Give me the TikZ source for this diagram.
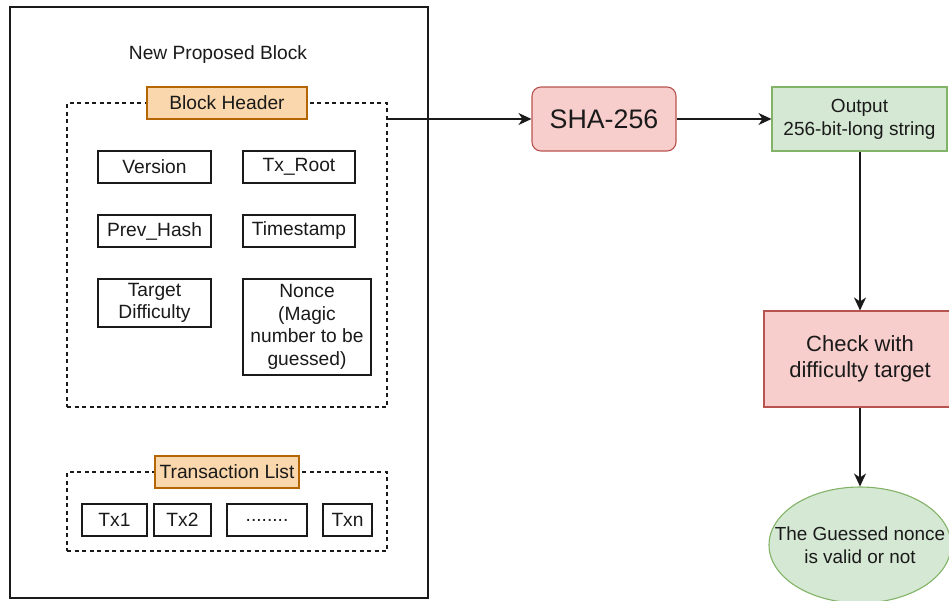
\documentclass[tikz,border=0pt]{standalone}
\usepackage{fontspec}
\setmainfont{Liberation Sans}
\usetikzlibrary{arrows.meta,shapes.geometric}

\definecolor{hdrfill}{HTML}{FAD7AC}
\definecolor{hdrline}{HTML}{B46504}
\definecolor{redfill}{HTML}{F8CECC}
\definecolor{redline}{HTML}{B85450}
\definecolor{grnfill}{HTML}{D5E8D4}
\definecolor{grnline}{HTML}{82B366}
\definecolor{ink}{HTML}{1A1A1A}

\tikzset{
  base/.style={inner sep=0pt, align=center, text=ink,
    font=\fontsize{19.2}{22.5}\selectfont},
  field/.style={base, draw=ink, line width=1.2pt, fill=white},
  group/.style={base, draw=ink, line width=1.1pt, dash pattern=on 4pt off 3.5pt},
  tag/.style={base, draw=hdrline, fill=hdrfill, line width=1.1pt},
  redbox/.style={base, draw=redline, fill=redfill, line width=1.1pt},
  grnbox/.style={base, draw=grnline, fill=grnfill, line width=1.1pt},
  flow/.style={draw=ink, line width=1.3pt,
    -{Stealth[length=13pt,width=12pt,inset=4pt]}},
  box/.style n args={2}{minimum width=#1pt, minimum height=#2pt}
}

\begin{document}
\begin{tikzpicture}[x=1pt, y=-1pt]
  \clip (0,0) rectangle (949,600);
  \fill[white] (0,0) rectangle (949,600);

  % the proposed block and its two dashed groups
  \node[field, box={418}{591}, fill=none] (block) at (219,302.5) {};
  \node[base] (title) at (218,55) {New Proposed Block};

  \node[group, box={320}{304}] (hdrbox) at (227,255) {};
  \node[tag, box={160}{32}] (hdrtag) at (227,103) {Block Header};

  \node[field, box={113}{32}] (version)   at (154.5,167) {Version};
  \node[field, box={112}{32}] (txroot)    at (299,167)   {Tx\_Root};
  \node[field, box={113}{32}] (prevhash)  at (154.5,231) {Prev\_Hash};
  \node[field, box={112}{32}] (timestamp) at (299,231)   {Timestamp};
  \node[field, box={113}{48}] (target)    at (154.5,303) {Target\\Difficulty};
  \node[field, box={128}{96}] (nonce)     at (307,327)
    {Nonce\\(Magic\\number to be\\guessed)};

  \node[group, box={320}{79}] (txbox) at (227,511.5) {};
  \node[tag, box={144}{32}] (txtag) at (227,472) {Transaction List};

  \node[field, box={65}{32}] (tx1)  at (114.5,520) {Tx1};
  \node[field, box={57}{32}] (tx2)  at (182.5,520) {Tx2};
  \node[field, box={80}{32}] (dots) at (267,520)   {........};
  \node[field, box={49}{32}] (txn)  at (347.5,520) {Txn};

  % hashing pipeline
  \node[redbox, box={144}{64}, rounded corners=9pt,
        font=\fontsize{26.8}{30}\selectfont] (sha) at (604,119) {SHA-256};
  \node[grnbox, box={175}{64}, font=\fontsize{19}{23}\selectfont]
        (output) at (859.5,119) {Output\\256-bit-long string};
  \node[redbox, box={192}{96}, font=\fontsize{22}{26}\selectfont]
        (check) at (860,359) {Check with\\difficulty target};
  \node[grnbox, ellipse, box={182}{116}] (result) at (860,545) {};
  \node[base, font=\fontsize{18.9}{23}\selectfont] (resulttext)
        at (result.center) {The Guessed nonce\\is valid or not};

  \draw[flow] (hdrbox.east |- sha.west) -- (sha.west);
  \draw[flow] (sha.east) -- (output.west);
  \draw[flow] (output.south -| check.north) -- (check.north);
  \draw[flow] (check.south) -- (result.north);
\end{tikzpicture}
\end{document}
